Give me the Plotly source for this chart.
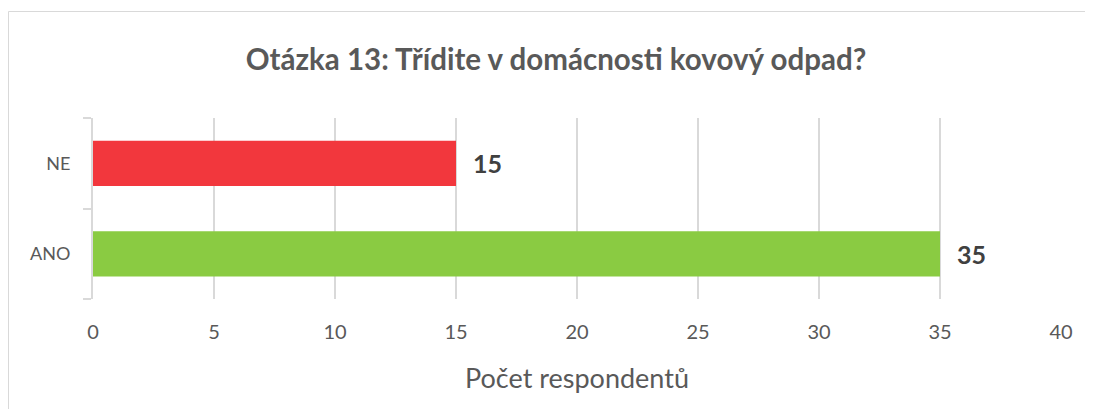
import plotly.graph_objects as go

categories = ["ANO", "NE"]
values = [35, 15]
bar_colors = ["#8ACB42", "#F2373D"]
x_ticks = [0, 5, 10, 15, 20, 25, 30, 35, 40]
title_text = "Otázka 13: Třídite v domácnosti kovový odpad?"
x_title = "Počet respondentů"

# page body has an 8px margin, so figure coords = screen coords - 8
W, H = 1085, 401
L, R, T, B = 85, 32, 110, 110
pw, ph = W - L - R, H - T - B

def px_x(p):
    return (p - L) / pw

def px_y(p):
    return (H - B - p) / ph

FONT = "Lato"

fig = go.Figure()
fig.add_trace(go.Bar(
    x=values, y=categories, orientation="h",
    marker=dict(color=bar_colors, line=dict(width=0)),
    hoverinfo="skip",
))

for c, v in zip(categories, values):
    fig.add_annotation(
        x=v, y=c, text=f"<b>{v}</b>", showarrow=False,
        xanchor="left", xshift=15,
        font=dict(family=FONT, size=25, color="#404040"),
    )

fig.add_shape(
    type="rect", xref="paper", yref="paper",
    x0=px_x(0.5), x1=px_x(1110), y0=px_y(3.5), y1=px_y(430),
    line=dict(color="#D9D9D9", width=1), layer="below",
)

fig.update_layout(
    width=W, height=H,
    margin=dict(l=L, r=R, t=T, b=B),
    paper_bgcolor="white", plot_bgcolor="white",
    showlegend=False,
    bargap=0.5,
    title=dict(
        text=f"<b>{title_text}</b>", x=548 / W, xanchor="center",
        y=1 - 52 / H, yanchor="middle",
        font=dict(family=FONT, size=29.5, color="#595959"),
    ),
    xaxis=dict(
        range=[0, 40], tickvals=x_ticks, showgrid=True,
        gridcolor="#D9D9D9", gridwidth=2, zeroline=False,
        showline=False, ticks="", ticklabelstandoff=19,
        tickfont=dict(family=FONT, size=20, color="#595959"),
        title=dict(text=x_title, standoff=27,
                   font=dict(family=FONT, size=27, color="#595959")),
        fixedrange=True,
    ),
    yaxis=dict(
        type="category", categoryorder="array", categoryarray=categories,
        range=[-0.5, 1.5], showgrid=False, zeroline=False,
        showline=True, linecolor="#D9D9D9", linewidth=2,
        ticks="outside", tickson="boundaries", ticklen=8,
        tickcolor="#D9D9D9", tickwidth=2, ticklabelstandoff=17,
        tickfont=dict(family=FONT, size=18, color="#595959"),
        fixedrange=True,
    ),
)

fig.write_html("out.html")
